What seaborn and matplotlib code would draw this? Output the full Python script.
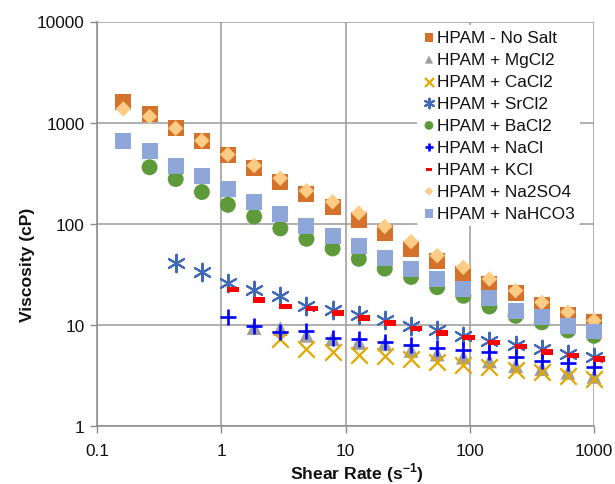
import numpy as np
import pandas as pd
import matplotlib
matplotlib.use("Agg")
import matplotlib.pyplot as plt
import seaborn as sns
from matplotlib.ticker import FixedLocator, FixedFormatter, NullLocator

# ---------------- data ----------------
shear = [0.163, 0.265, 0.430, 0.698, 1.13, 1.84, 2.99, 4.85, 7.87, 12.8,
         20.7, 33.7, 54.7, 88.8, 144, 234, 380, 617, 1000]
shear_kcl = [1.24, 2.02, 3.29, 5.34, 8.66, 14.1, 22.8, 37.1, 60.2, 97.7,
             158, 257, 418, 679, 1100]

no_salt = [1600, 1220, 890, 664, 483, 354, 258, 197, 146, 110, 81, 56.3, 43,
           31.8, 25.4, 20.5, 15.7, 12.5, 10.8]
mgcl2 = [9.4, 9.2, 7.9, 7.3, 6.7, 6.5, 5.6, 5.15, 4.8, 4.4, 3.95, 3.7, 3.4, 3.1]
cacl2 = [7.3, 5.8, 5.4, 5.0, 4.9, 4.6, 4.3, 4.0, 3.8, 3.6, 3.4, 3.1, 2.9]
srcl2 = [40.7, 33.1, 25.8, 22.3, 19.2, 15.5, 14.1, 12.5, 11.2, 9.7, 8.8, 7.8,
         7.0, 6.3, 5.8, 5.15, 4.8]
bacl2 = [362, 277, 206, 154, 118, 90, 71, 57, 45, 36, 29.8, 23.6, 19.4, 15.2,
         12.3, 10.6, 8.8, 7.8]
nacl = [12.0, 9.8, 8.5, 8.6, 7.5, 7.25, 6.8, 6.3, 5.9, 5.6, 5.4, 4.8, 4.4, 4.2, 3.8]
kcl = [22.3, 17.6, 15.1, 14.6, 13.1, 11.7, 10.4, 9.25, 8.3, 7.5, 6.7, 6.1, 5.4,
       4.96, 4.6]
na2so4 = [1366, 1147, 880, 664, 483, 376, 282, 212, 165, 128, 94, 66.5, 48.4,
          37.1, 28.4, 21.8, 16.7, 13.4, 11.0]
nahco3 = [664, 528, 376, 295, 221, 165, 124, 95, 75, 60, 45.5, 35.7, 28.4, 22.6,
          18.4, 13.8, 11.9, 9.8, 8.6]

labels = ["HPAM - No Salt", "HPAM + MgCl2", "HPAM + CaCl2", "HPAM + SrCl2",
          "HPAM + BaCl2", "HPAM + NaCl", "HPAM + KCl", "HPAM + Na2SO4",
          "HPAM + NaHCO3"]
xticks = [0.1, 1, 10, 100, 1000]
xtick_labels = ["0.1", "1", "10", "100", "1000"]
yticks = [1, 10, 100, 1000, 10000]
ytick_labels = ["1", "10", "100", "1000", "10000"]

# ---------------- style ----------------
sns.set_theme(style="white")
plt.rcParams["font.family"] = ["Liberation Sans", "DejaVu Sans"]
plt.rcParams["mathtext.fontset"] = "custom"
plt.rcParams["mathtext.rm"] = "Liberation Sans"
plt.rcParams["mathtext.bf"] = "Liberation Sans:bold"

fig = plt.figure(figsize=(6.15, 4.85), dpi=100)
ax = fig.add_axes([97 / 615, 1 - 427 / 485, (594 - 97) / 615, (427 - 22.5) / 485])

dash = [(-1, -0.45), (1, -0.45), (1, 0.45), (-1, 0.45), (-1, -0.45)]

series = [
    (labels[0], shear, no_salt, "s", 132, "#D4712B", True, 0),
    (labels[1], shear[5:], mgcl2, "^", 115, "#9E9E9E", True, 0),
    (labels[2], shear[6:], cacl2, "x", 140, "#E0A800", False, 1.6),
    (labels[3], shear[2:], srcl2, (6, 2, 0), 160, "#4069B8", False, 1.5),
    (labels[4], shear[1:], bacl2, "o", 132, "#5F9A3A", True, 0),
    (labels[5], shear[4:], nacl, "+", 135, "#0000FF", False, 1.9),
    (labels[6], shear_kcl, kcl, dash, 75, "#FF0000", True, 0),
    (labels[7], shear, na2so4, "D", 62, "#FFCC85", True, 0),
    (labels[8], shear, nahco3, "s", 132, "#8EA6D8", True, 0),
]

for lab, xs, ys, mk, sz, col, filled, lw in series:
    df = pd.DataFrame({"x": xs, "y": ys})
    if filled:
        sns.scatterplot(data=df, x="x", y="y", marker=mk, s=sz, color=col,
                        edgecolor="none", linewidth=0, ax=ax, label=lab,
                        clip_on=False, zorder=3)
    else:
        sns.scatterplot(data=df, x="x", y="y", marker=mk, s=sz, color=col,
                        edgecolor=col, linewidth=lw, ax=ax, label=lab,
                        clip_on=False, zorder=3)

ax.set_xscale("log")
ax.set_yscale("log")
ax.set_xlim(0.1, 1000)
ax.set_ylim(1, 10000)
ax.xaxis.set_major_locator(FixedLocator(xticks))
ax.xaxis.set_major_formatter(FixedFormatter(xtick_labels))
ax.yaxis.set_major_locator(FixedLocator(yticks))
ax.yaxis.set_major_formatter(FixedFormatter(ytick_labels))
ax.xaxis.set_minor_locator(NullLocator())
ax.yaxis.set_minor_locator(NullLocator())

ax.grid(True, which="major", color="#9A9A9A", linewidth=1.1)
ax.set_axisbelow(True)
for sp in ["top", "right"]:
    ax.spines[sp].set_visible(False)
for sp in ["left", "bottom"]:
    ax.spines[sp].set_color("#8A8A8A")
    ax.spines[sp].set_linewidth(1.1)
ax.tick_params(axis="both", which="major", direction="out", length=5,
               width=1, color="#8A8A8A", labelsize=12.4, labelcolor="#111111",
               bottom=True, left=True, pad=4)
ax.tick_params(axis="x", pad=7)

ax.set_xlabel(r"Shear Rate (s$^{\mathbf{-1}}$)", fontsize=12.6,
              fontweight="bold", color="#111111")
ax.set_ylabel("Viscosity (cP)", fontsize=12.6, fontweight="bold",
              color="#111111")
ax.xaxis.set_label_coords((357 - 97) / 497, -(461 - 427) / 404.5)
ax.yaxis.set_label_coords(-(97 - 35) / 497, (427 - 265) / 404.5)

leg = ax.legend(loc="upper right", bbox_to_anchor=(0.978, 1.0),
                frameon=True, fontsize=12.4, markerscale=0.55,
                handletextpad=0.05, handlelength=0.8, labelspacing=0.4,
                borderpad=0.3, borderaxespad=0.2)
leg.get_frame().set_edgecolor("none")
leg.get_frame().set_facecolor("white")
leg.get_frame().set_alpha(1)
for t in leg.get_texts():
    t.set_color("#111111")

fig.savefig("out.png", dpi=100)
